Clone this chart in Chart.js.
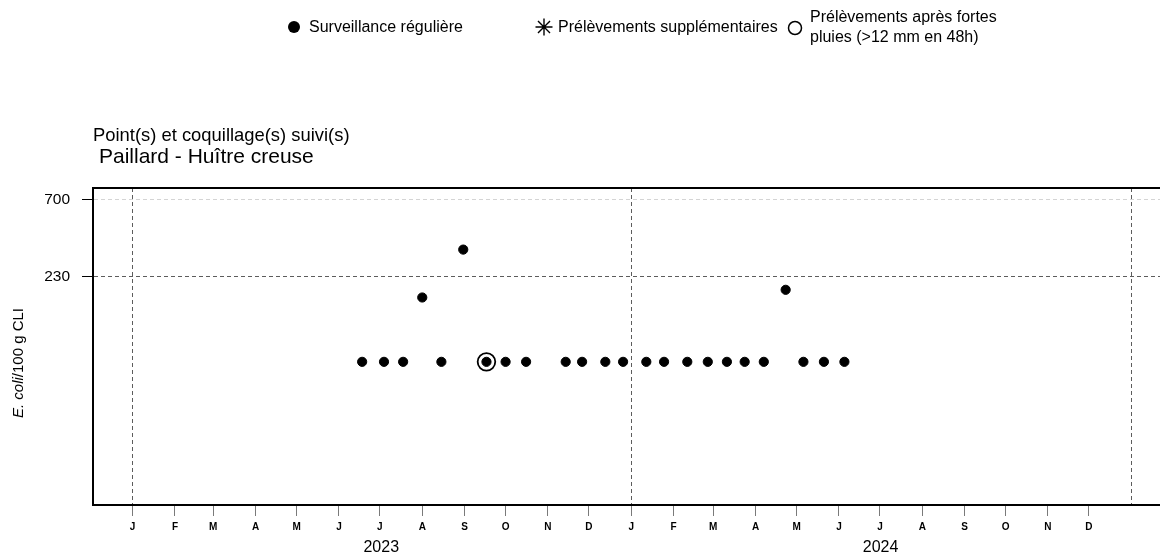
<!DOCTYPE html>
<html lang="fr">
<head>
<meta charset="utf-8">
<title>E. coli – Paillard, Huître creuse</title>
<script src="https://cdn.jsdelivr.net/npm/chart.js@4.4.1/dist/chart.umd.min.js"></script>
<style>
  html, body { margin: 0; padding: 0; background: #fff; overflow: hidden; }
  #wrap { position: relative; width: 1160px; height: 554px; }
</style>
</head>
<body>
<div id="wrap"><canvas id="chart" width="1160" height="554"></canvas></div>
<script>
// Regular monitoring: sampling dates and E. coli / 100 g CLI
const regularDates = [
  '2023-06-18', '2023-07-04', '2023-07-18', '2023-08-01', '2023-08-15', '2023-08-31',
  '2023-09-17', '2023-10-01', '2023-10-16', '2023-11-14', '2023-11-26', '2023-12-13',
  '2023-12-26', '2024-01-12', '2024-01-25', '2024-02-11', '2024-02-26', '2024-03-11',
  '2024-03-24', '2024-04-07', '2024-04-23', '2024-05-06', '2024-05-21', '2024-06-05'
];
const regularValues = [
  67, 67, 67, 170, 67, 340,
  67, 67, 67, 67, 67, 67,
  67, 67, 67, 67, 67, 67,
  67, 67, 190, 67, 67, 67
];

// Additional samples (none over the period)
const extraDates = [];
const extraValues = [];

// Samples taken after heavy rain (>12 mm in 48h)
const rainDates = ['2023-09-17'];
const rainValues = [67];

// Axis labels
const yTickValues = [230, 700];
const monthLetters = ['J', 'F', 'M', 'A', 'M', 'J', 'J', 'A', 'S', 'O', 'N', 'D'];
const years = [2023, 2024];

const seriesLabels = [
  'Surveillance régulière',
  'Prélèvements supplémentaires',
  'Prélèvements après fortes pluies (>12 mm en 48h)'
];
const titleLine1 = 'Point(s) et coquillage(s) suivi(s)';
const titleLine2 = 'Paillard - Huître creuse';

const FONT = "'Liberation Sans', Arial, Helvetica, sans-serif";
Chart.defaults.font.family = FONT;
Chart.defaults.color = '#000';

const toMs = s => Date.parse(s + 'T00:00:00Z');
const pts = (dates, vals) => dates.map((d, i) => ({ x: toMs(d), y: vals[i] }));

// Month ticks for every displayed year, plus the closing year boundary
const monthTicks = [];
years.forEach(y => { for (let m = 0; m < 12; m++) monthTicks.push(Date.UTC(y, m, 1)); });
const closingYear = years[years.length - 1] + 1;
monthTicks.push(Date.UTC(closingYear, 0, 1));
const isYearStart = v => { const d = new Date(v); return d.getUTCMonth() === 0 && d.getUTCDate() === 1; };
const midYear = y => (Date.UTC(y, 0, 1) + Date.UTC(y, 11, 31)) / 2;

const xMin = Date.UTC(2022, 11, 3);
const xMax = Date.UTC(2025, 0, 22);

// Frame, titles, legend and y-axis caption
const decorations = {
  id: 'decorations',
  afterDraw(chart) {
    const { ctx, chartArea: a } = chart;
    ctx.save();
    // top edge of the plotting frame
    ctx.strokeStyle = '#000';
    ctx.lineWidth = 2;
    ctx.beginPath();
    ctx.moveTo(a.left - 1, a.top);
    ctx.lineTo(a.right, a.top);
    ctx.stroke();

    // titles
    ctx.fillStyle = '#000';
    ctx.textAlign = 'left';
    ctx.textBaseline = 'alphabetic';
    ctx.font = '18.4px ' + FONT;
    ctx.fillText(titleLine1, 93, 141);
    ctx.font = '21px ' + FONT;
    ctx.fillText(titleLine2, 99, 163);

    // legend
    const ly = 27;
    ctx.font = '16px ' + FONT;
    ctx.textBaseline = 'middle';
    ctx.beginPath();
    ctx.arc(294, ly, 6, 0, Math.PI * 2);
    ctx.fill();
    ctx.fillText(seriesLabels[0], 309, ly + 1);

    ctx.lineWidth = 1.4;
    const sx = 544, r = 8.5;
    ctx.beginPath();
    for (let k = 0; k < 4; k++) {
      const ang = k * Math.PI / 4;
      ctx.moveTo(sx - r * Math.cos(ang), ly - r * Math.sin(ang));
      ctx.lineTo(sx + r * Math.cos(ang), ly + r * Math.sin(ang));
    }
    ctx.stroke();
    ctx.fillText(seriesLabels[1], 558, ly + 1);

    ctx.lineWidth = 1.5;
    ctx.beginPath();
    ctx.arc(795, ly + 1, 6.5, 0, Math.PI * 2);
    ctx.stroke();
    ctx.fillText('Prélèvements après fortes', 810, 18);
    ctx.fillText('pluies (>12 mm en 48h)', 810, 38);

    // y-axis caption with italic species name
    ctx.translate(19, 363);
    ctx.rotate(-Math.PI / 2);
    const it = 'E. coli', rest = '/100 g CLI';
    ctx.font = 'italic 15px ' + FONT;
    const w1 = ctx.measureText(it).width;
    ctx.font = '15px ' + FONT;
    const w2 = ctx.measureText(rest).width;
    const x0 = -(w1 + w2) / 2;
    ctx.textAlign = 'left';
    ctx.textBaseline = 'middle';
    ctx.font = 'italic 15px ' + FONT;
    ctx.fillText(it, x0, 0);
    ctx.font = '15px ' + FONT;
    ctx.fillText(rest, x0 + w1, 0);
    ctx.restore();
  }
};

new Chart(document.getElementById('chart'), {
  type: 'scatter',
  data: {
    datasets: [
      {
        label: seriesLabels[0],
        data: pts(regularDates, regularValues),
        pointStyle: 'circle',
        pointRadius: 4.6,
        pointBorderWidth: 1,
        backgroundColor: '#000',
        borderColor: '#000'
      },
      {
        label: seriesLabels[1],
        data: pts(extraDates, extraValues),
        pointStyle: 'star',
        pointRadius: 8,
        pointBorderWidth: 1.4,
        backgroundColor: '#000',
        borderColor: '#000'
      },
      {
        label: seriesLabels[2],
        data: pts(rainDates, rainValues),
        pointStyle: 'circle',
        pointRadius: 8.8,
        pointBorderWidth: 1.8,
        backgroundColor: 'rgba(0,0,0,0)',
        borderColor: '#000'
      }
    ]
  },
  options: {
    responsive: false,
    animation: false,
    events: [],
    layout: { autoPadding: false, padding: { top: 188, left: 0, right: 0, bottom: 0 } },
    plugins: { legend: { display: false }, tooltip: { enabled: false }, title: { display: false } },
    scales: {
      x: {
        type: 'linear',
        position: 'bottom',
        weight: 0,
        min: xMin,
        max: xMax,
        afterBuildTicks: s => { s.ticks = monthTicks.map(v => ({ value: v })); },
        afterFit: s => { s.height = 32; s.paddingLeft = 0; s.paddingRight = 0; },
        ticks: {
          autoSkip: false,
          maxRotation: 0,
          minRotation: 0,
          padding: 5,
          color: '#000',
          font: { size: 10, weight: 'bold' },
          callback: v => new Date(v).getUTCFullYear() >= closingYear ? '' : monthLetters[new Date(v).getUTCMonth()]
        },
        grid: {
          color: c => (c.tick && isYearStart(c.tick.value)) ? '#5c5c5c' : 'rgba(0,0,0,0)',
          tickColor: c => (c.tick && new Date(c.tick.value).getUTCFullYear() >= closingYear) ? 'rgba(0,0,0,0)' : '#7a7a7a',
          tickLength: 11,
          lineWidth: 1
        },
        border: { display: true, color: '#000', width: 2, dash: [4, 3] }
      },
      xYears: {
        type: 'linear',
        position: 'bottom',
        weight: 1,
        min: xMin,
        max: xMax,
        afterBuildTicks: s => { s.ticks = years.map(y => ({ value: midYear(y) })); },
        afterFit: s => { s.height = 17; s.paddingLeft = 0; s.paddingRight = 0; },
        ticks: {
          autoSkip: false,
          maxRotation: 0,
          minRotation: 0,
          padding: 1,
          color: '#000',
          font: { size: 16 },
          callback: v => String(new Date(v).getUTCFullYear())
        },
        grid: { display: false, drawTicks: false },
        border: { display: false }
      },
      y: {
        type: 'logarithmic',
        position: 'left',
        min: 8.44,
        max: 829,
        afterBuildTicks: s => { s.ticks = yTickValues.map(v => ({ value: v })); },
        afterFit: s => { s.width = 93; s.paddingTop = 0; s.paddingBottom = 0; },
        ticks: {
          padding: 12,
          color: '#000',
          font: { size: 15.5 },
          callback: v => String(v)
        },
        grid: {
          color: c => (c.tick && c.tick.value === 700) ? '#d4d4d4' : '#5c5c5c',
          tickColor: '#000',
          tickLength: 11,
          lineWidth: 1
        },
        border: { display: true, color: '#000', width: 2, dash: [4, 3] }
      }
    }
  },
  plugins: [decorations]
});
</script>
</body>
</html>
